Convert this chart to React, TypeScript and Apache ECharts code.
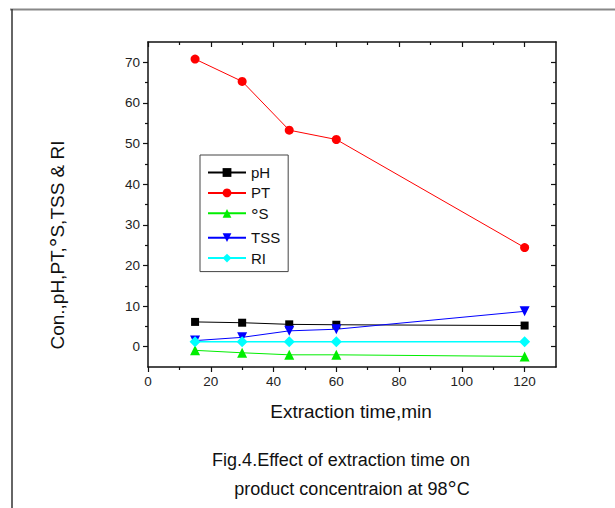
import React, { useEffect, useRef } from "react";
import * as echarts from "echarts";

const timeMin = [15, 30, 45, 60, 120];
const pHValues = [6.1, 5.9, 5.5, 5.4, 5.2];
const ptValues = [70.8, 65.3, 53.3, 51.0, 24.4];
const sValues = [-0.9, -1.5, -2.0, -2.0, -2.4];
const tssValues = [1.5, 2.3, 3.9, 4.3, 8.7];
const riValues = [1.2, 1.2, 1.2, 1.2, 1.2];

const xMajor = [0, 20, 40, 60, 80, 100, 120];
const xMinor = [10, 30, 50, 70, 90, 110];
const yMajor = [0, 10, 20, 30, 40, 50, 60, 70];
const yMinor = [5, 15, 25, 35, 45, 55, 65];

const FONT = "'Liberation Sans', Arial, sans-serif";

const zip = (vals: number[]) => timeMin.map((t, i) => [t, vals[i]]);

export default function App() {
  const ref = useRef<HTMLDivElement>(null);
  useEffect(() => {
    if (!ref.current) return;
    const chart = echarts.init(ref.current, null, { renderer: "svg" });
    const axisLine = { show: true, onZero: false, lineStyle: { color: "#111", width: 1.5 } };
    const noLine = { show: false, onZero: false };
    const mkX = (pos: string, vals: number[], len: number, inside: boolean, labels: boolean, line: boolean) => ({
      type: "value",
      min: 0,
      max: 130,
      position: pos,
      axisLine: line ? axisLine : noLine,
      axisTick: { show: true, customValues: vals, length: len, inside, lineStyle: { color: "#111", width: 1.2 } },
      axisLabel: labels
        ? { show: true, customValues: vals, fontSize: 13.5, color: "#222", fontFamily: FONT, margin: 7 }
        : { show: false },
      splitLine: { show: false },
    });
    const mkY = (pos: string, vals: number[], len: number, inside: boolean, labels: boolean, line: boolean) => ({
      type: "value",
      min: -5,
      max: 75,
      position: pos,
      axisLine: line ? axisLine : noLine,
      axisTick: { show: true, customValues: vals, length: len, inside, lineStyle: { color: "#111", width: 1.2 } },
      axisLabel: labels
        ? { show: true, customValues: vals, fontSize: 13.5, color: "#222", fontFamily: FONT, margin: 8 }
        : { show: false },
      splitLine: { show: false },
    });
    const mkSeries = (name: string, vals: number[], color: string, symbol: string, size: number, rotate = 0, width = 1) => ({
      name,
      type: "line",
      xAxisIndex: 0,
      yAxisIndex: 0,
      data: zip(vals),
      symbol,
      symbolSize: size,
      symbolRotate: rotate,
      lineStyle: { color, width },
      itemStyle: { color },
      z: 3,
    });
    chart.setOption({
      animation: false,
      backgroundColor: "#fff",
      grid: { left: 148, top: 42, right: 59, bottom: 141, containLabel: false },
      xAxis: [
        mkX("bottom", xMajor, 5, false, true, true),
        mkX("bottom", xMinor, 3, false, false, false),
        mkX("top", xMajor, 5, true, false, true),
        mkX("top", xMinor, 3, true, false, false),
      ],
      yAxis: [
        mkY("left", yMajor, 5, false, true, true),
        mkY("left", yMinor, 3, false, false, false),
        mkY("right", yMajor, 5, true, false, true),
        mkY("right", yMinor, 3, true, false, false),
      ],
      legend: {
        left: 200,
        top: 155,
        orient: "vertical",
        itemWidth: 38,
        itemHeight: 11,
        itemGap: 5.4,
        padding: [10, 8, 6, 7],
        borderColor: "#444",
        borderWidth: 1,
        backgroundColor: "#fff",
        textStyle: {
          fontSize: 15,
          color: "#111",
          fontFamily: FONT,
          lineHeight: 15,
          rich: {
            deg: { fontSize: 19, lineHeight: 15, color: "#111", fontFamily: FONT, verticalAlign: "top" },
          },
        },
        formatter: (name: string) => (name.startsWith("°") ? "{deg|°}" + name.slice(1) : name),
        data: ["pH", "PT", "°S", "TSS", "RI"],
      },
      series: [
        mkSeries("pH", pHValues, "#000000", "rect", 8),
        mkSeries("PT", ptValues, "#ff0000", "circle", 9),
        mkSeries("°S", sValues, "#00ee00", "triangle", 10),
        mkSeries("TSS", tssValues, "#0000ff", "triangle", 10, 180),
        mkSeries("RI", riValues, "#00ffff", "diamond", 11, 0, 1.5),
      ],
      graphic: [
        { type: "line", shape: { x1: 10, y1: 9.5, x2: 615, y2: 9.5 }, style: { stroke: "#888", lineWidth: 2 } },
        { type: "line", shape: { x1: 12, y1: 9, x2: 12, y2: 508 }, style: { stroke: "#333", lineWidth: 1.5 } },
        {
          type: "text",
          x: 57,
          y: 245,
          rotation: Math.PI / 2,
          style: {
            text: "Con.,pH,PT,{deg|°}S,TSS & RI",
            fontSize: 19,
            fontFamily: FONT,
            fill: "#111",
            align: "center",
            verticalAlign: "middle",
            rich: { deg: { fontSize: 24, fontFamily: FONT, fill: "#111" } },
          },
        },
        {
          type: "text",
          x: 351,
          y: 411,
          style: { text: "Extraction time,min", fontSize: 19, fontFamily: FONT, fill: "#111", align: "center", verticalAlign: "middle" },
        },
        {
          type: "text",
          x: 341,
          y: 460,
          style: { text: "Fig.4.Effect of extraction time on", fontSize: 18, fontFamily: FONT, fill: "#111", align: "center", verticalAlign: "middle" },
        },
        {
          type: "text",
          x: 352,
          y: 489,
          style: {
            text: "product concentraion at 98{deg|°}C",
            fontSize: 18,
            fontFamily: FONT,
            fill: "#111",
            align: "center",
            verticalAlign: "middle",
            rich: { deg: { fontSize: 23, fontFamily: FONT, fill: "#111" } },
          },
        },
      ],
    });
    return () => chart.dispose();
  }, []);
  return <div ref={ref} style={{ position: "absolute", left: 0, top: 0, width: 615, height: 508 }} />;
}
